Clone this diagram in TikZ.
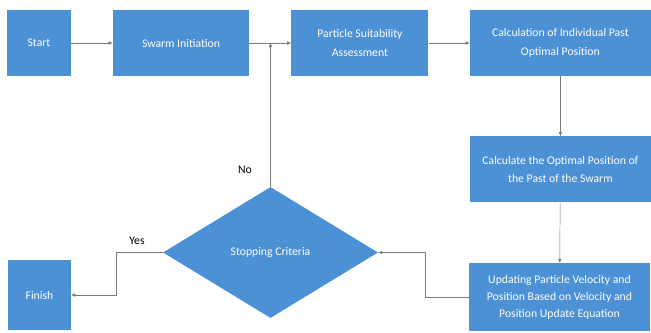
\documentclass[tikz,border=0pt]{standalone}
\usepackage{fontspec}
\setmainfont{Carlito}
\usetikzlibrary{arrows.meta,positioning,shapes.geometric}
\definecolor{stepblue}{RGB}{76,144,214}
\definecolor{linegray}{RGB}{120,120,120}
\begin{document}
\begin{tikzpicture}[
    every node/.style={font=\fontsize{10}{16}\selectfont},
    box/.style={fill=stepblue, text=white, align=center, minimum height=1.98cm, inner sep=2pt},
    decision/.style={diamond, fill=stepblue, text=white, aspect=1.64, minimum width=6.45cm, minimum height=3.93cm, inner sep=0pt},
    flow/.style={-{Latex[length=1.2mm,width=1.1mm]}, draw=linegray, thin},
    tag/.style={text=black, font=\fontsize{10}{12}\selectfont}
]
\useasboundingbox (0,0) rectangle (19.53,9.99);
\node[box, minimum width=1.89cm] (start) at (1.17,8.70) {Start};
\node[box, minimum width=4.08cm, right=1.26cm of start] (swarm) {Swarm Initiation};
\node[box, minimum width=4.11cm, right=1.26cm of swarm] (suit) {Particle Suitability\\Assessment};
\node[box, minimum width=5.43cm, right=1.23cm of suit] (pbest) {Calculation of Individual Past\\Optimal Position};
\node[box, minimum width=5.43cm, below=1.8cm of pbest] (gbest) {Calculate the Optimal Position of\\the Past of the Swarm};
\node[box, minimum width=5.43cm, minimum height=2.04cm, font=\fontsize{10}{14.5}\selectfont] (update) at (16.785,1.08) {Updating Particle Velocity and\\Position Based on Velocity and\\Position Update Equation};
\node[decision] (stop) at (8.115,2.415) {Stopping Criteria};
\node[box, minimum width=1.89cm, minimum height=2.1cm] (finish) at (1.185,1.14) {Finish};
\coordinate (loopx) at (12.75,0);
\coordinate (yesx) at (3.48,0);
\node[tag] (no) at (7.35,4.89) {No};
\node[tag] (yes) at (4.11,2.76) {Yes};
% main flow
\draw[flow] (start) -- (swarm);
\draw[flow] (swarm) -- (suit);
\draw[flow] (suit) -- (pbest);
\draw[flow] (pbest) -- (gbest);
\draw[flow] (gbest) -- (update);
% loop back
\draw[flow] (update.west) -- (update.west -| loopx) |- (stop.east);
\draw[flow] (stop.north) -- (stop.north |- swarm.east);
\draw[flow] (stop.west) -- (stop.west -| yesx) |- (finish.east);
\end{tikzpicture}
\end{document}
